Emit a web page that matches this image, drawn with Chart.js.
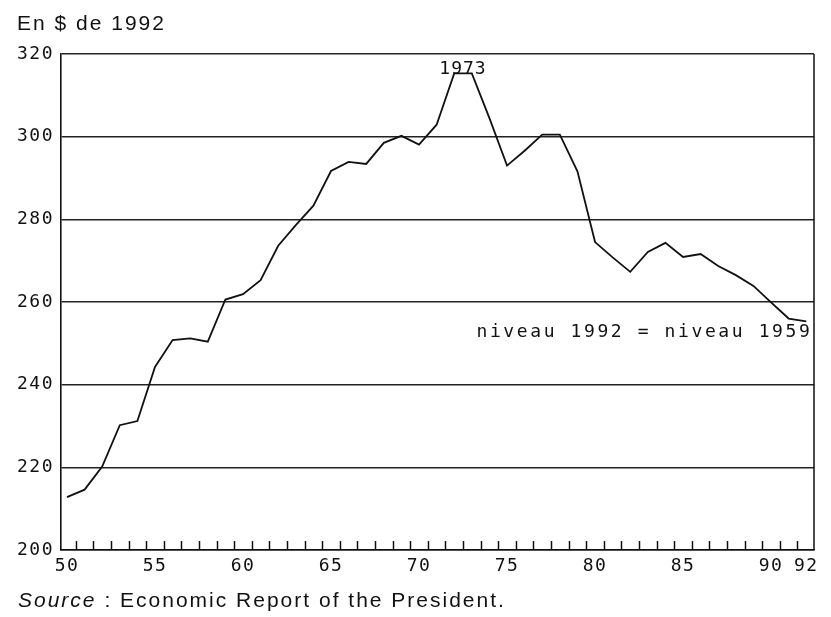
<!DOCTYPE html>
<html>
<head>
<meta charset="utf-8">
<title>En $ de 1992</title>
<script src="https://cdn.jsdelivr.net/npm/chart.js"></script>
<style>
  body { margin: 0; background: #fff; }
  .wrap { position: relative; width: 831px; height: 617px; }
  canvas { position: absolute; left: 0; top: 0; }
  .unit, .source {
    position: absolute;
    font: 21px "Liberation Sans", Arial, sans-serif;
    line-height: 21px;
    color: #111;
    white-space: nowrap;
  }
  .unit { left: 17px; top: 12px; letter-spacing: 2px; }
  .source { left: 18px; top: 589px; letter-spacing: 2px; }
</style>
</head>
<body>
<div class="wrap">
  <canvas id="chart" width="831" height="617"></canvas>
  <div class="unit">En $ de 1992</div>
  <div class="source"><i>Source</i> : Economic Report of the President.</div>
</div>
<script>
// valeurs (en $ de 1992)
const years = [1950, 1951, 1952, 1953, 1954, 1955, 1956, 1957, 1958, 1959,
               1960, 1961, 1962, 1963, 1964, 1965, 1966, 1967, 1968, 1969,
               1970, 1971, 1972, 1973, 1974, 1975, 1976, 1977, 1978, 1979,
               1980, 1981, 1982, 1983, 1984, 1985, 1986, 1987, 1988, 1989,
               1990, 1991, 1992];
const values = [212.8, 214.6, 220.2, 230.2, 231.2, 244.3, 250.8, 251.2, 250.4, 260.6,
                261.9, 265.3, 273.6, 278.6, 283.3, 291.7, 293.9, 293.4, 298.5, 300.2,
                298.1, 302.9, 315.3, 315.3, 304.5, 293.0, 296.6, 300.5, 300.5, 291.6,
                274.5, 270.8, 267.3, 272.1, 274.3, 270.9, 271.6, 268.7, 266.5, 263.9,
                259.9, 256.0, 255.3];
const xLabelYears = [1950, 1955, 1960, 1965, 1970, 1975, 1980, 1985, 1990, 1992];
const yTicks = [200, 220, 240, 260, 280, 300, 320];
const peakLabel = '1973';
const noteLabel = 'niveau 1992 = niveau 1959';

const plotterFont = '"DejaVu Sans Mono", monospace';

const extras = {
  id: 'extras',
  beforeDraw(chart) {
    chart.ctx.letterSpacing = '1.5px'; // chiffres plus espacés comme sur le tracé
  },
  afterDraw(chart) {
    const ctx = chart.ctx;
    const a = chart.chartArea;
    const x = chart.scales.x, y = chart.scales.y;
    ctx.save();
    ctx.strokeStyle = '#111';
    ctx.lineWidth = 1.5;
    ctx.beginPath();
    ctx.moveTo(a.right, a.top);
    ctx.lineTo(a.right, a.bottom);
    // petites graduations entre les années
    years.slice(0, -1).forEach(yr => {
      const px = Math.round(x.getPixelForValue(yr + 0.5)) + 0.5;
      ctx.moveTo(px, a.bottom);
      ctx.lineTo(px, a.bottom - 9);
    });
    ctx.stroke();

    ctx.fillStyle = '#111';
    ctx.font = '18px ' + plotterFont;
    ctx.textBaseline = 'middle';
    ctx.letterSpacing = '1px';
    ctx.textAlign = 'center';
    ctx.fillText(peakLabel, x.getPixelForValue(1972.5), y.getPixelForValue(316.2));
    ctx.letterSpacing = '2.6px';
    ctx.textAlign = 'right';
    ctx.fillText(noteLabel, x.getPixelForValue(1992.2) + 2.6, y.getPixelForValue(252.7));
    ctx.restore();
  }
};

new Chart(document.getElementById('chart'), {
  type: 'line',
  data: {
    datasets: [{
      data: years.map((yr, i) => ({ x: yr, y: values[i] })),
      borderColor: '#111',
      borderWidth: 1.8,
      pointRadius: 0,
      tension: 0,
      fill: false
    }]
  },
  options: {
    responsive: false,
    animation: false,
    layout: { padding: { top: 54, right: 17, left: 0, bottom: 0 } },
    plugins: {
      legend: { display: false },
      tooltip: { enabled: false }
    },
    scales: {
      x: {
        type: 'linear',
        min: 1949.66,
        max: 1992.44,
        afterBuildTicks: s => { s.ticks = xLabelYears.map(v => ({ value: v })); },
        afterFit: s => { s.height = 67; },
        grid: { display: false, drawTicks: false },
        border: { display: true, color: '#111', width: 1.6 },
        ticks: {
          color: '#111',
          font: { family: plotterFont, size: 18 },
          padding: 6,
          maxRotation: 0,
          autoSkip: false,
          callback: v => String(v).slice(2)
        }
      },
      y: {
        min: 200,
        max: 320,
        afterBuildTicks: s => { s.ticks = yTicks.map(v => ({ value: v })); },
        afterFit: s => { s.width = 61; },
        grid: { color: '#222', lineWidth: 1.4, drawTicks: false },
        border: { display: true, color: '#111', width: 1.6 },
        ticks: {
          color: '#111',
          font: { family: plotterFont, size: 18 },
          padding: 7
        }
      }
    }
  },
  plugins: [extras]
});
</script>
</body>
</html>
